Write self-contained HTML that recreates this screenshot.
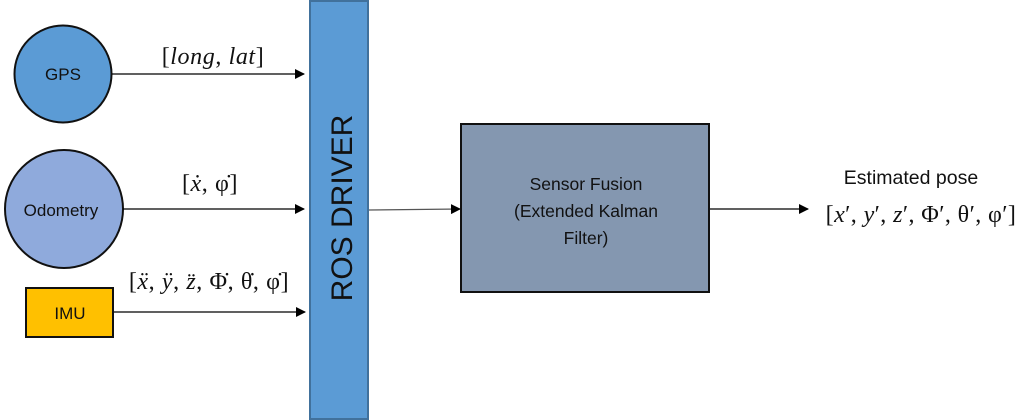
<!DOCTYPE html>
<html><head><style>body{margin:0;background:#fff}svg{display:block}</style></head><body>
<svg width="1031" height="420" xmlns="http://www.w3.org/2000/svg" font-family="Liberation Sans, sans-serif">
<defs><marker id="a" markerWidth="10" markerHeight="10" refX="9" refY="5" orient="auto" markerUnits="userSpaceOnUse"><path d="M0,0 L10,5 L0,10z" fill="#000"/></marker></defs>
<circle cx="63" cy="74" r="48.5" fill="#5b9bd5" stroke="#111" stroke-width="2"/>
<text x="63" y="80" font-size="17" text-anchor="middle" fill="#111">GPS</text>
<circle cx="64" cy="209" r="59" fill="#8faadc" stroke="#111" stroke-width="2"/>
<text x="61" y="216" font-size="17" text-anchor="middle" fill="#111">Odometry</text>
<rect x="26" y="288" width="87" height="49" fill="#ffc000" stroke="#111" stroke-width="2"/>
<text x="70" y="319" font-size="17" text-anchor="middle" fill="#111">IMU</text>
<rect x="310" y="1" width="58" height="418" fill="#5b9bd5" stroke="#41719c" stroke-width="2"/>
<text transform="translate(352,208) rotate(-90)" font-size="30" text-anchor="middle" fill="#111">ROS DRIVER</text>
<line x1="112" y1="74" x2="304" y2="74" stroke="#000" stroke-width="1.2" marker-end="url(#a)"/>
<line x1="123" y1="209" x2="304" y2="209" stroke="#000" stroke-width="1.2" marker-end="url(#a)"/>
<line x1="114" y1="312" x2="305" y2="312" stroke="#000" stroke-width="1.2" marker-end="url(#a)"/>
<g font-family="Liberation Serif, serif" font-size="24" fill="#111" text-anchor="middle">
<text x="213" y="64" letter-spacing="0.6"><tspan>[</tspan><tspan font-style="italic">long</tspan>, <tspan font-style="italic">lat</tspan>]</text>
<text x="210" y="191" letter-spacing="0.6">[<tspan font-style="italic">ẋ</tspan>, φ̇]</text>
<text x="209" y="289" letter-spacing="0.6">[<tspan font-style="italic">ẍ</tspan>, <tspan font-style="italic">ÿ</tspan>, <tspan font-style="italic">z̈</tspan>, Φ̇, θ̇, φ̇]</text>
<text x="921" y="222" letter-spacing="0.4">[<tspan font-style="italic">x</tspan>′, <tspan font-style="italic">y</tspan>′, <tspan font-style="italic">z</tspan>′, Φ′, θ′, φ′]</text>
</g>
<line x1="369" y1="210" x2="460" y2="209" stroke="#555" stroke-width="1.2" marker-end="url(#a)"/>
<rect x="461" y="124" width="248" height="168" fill="#8497b0" stroke="#111" stroke-width="2"/>
<g font-size="17.5" fill="#111" text-anchor="middle">
<text x="586" y="190">Sensor Fusion</text>
<text x="586" y="217">(Extended Kalman</text>
<text x="586" y="244">Filter)</text>
<text x="911" y="184" font-size="19.5">Estimated pose</text>
</g>
<line x1="710" y1="209" x2="808" y2="209" stroke="#000" stroke-width="1.2" marker-end="url(#a)"/>
</svg>
</body></html>
